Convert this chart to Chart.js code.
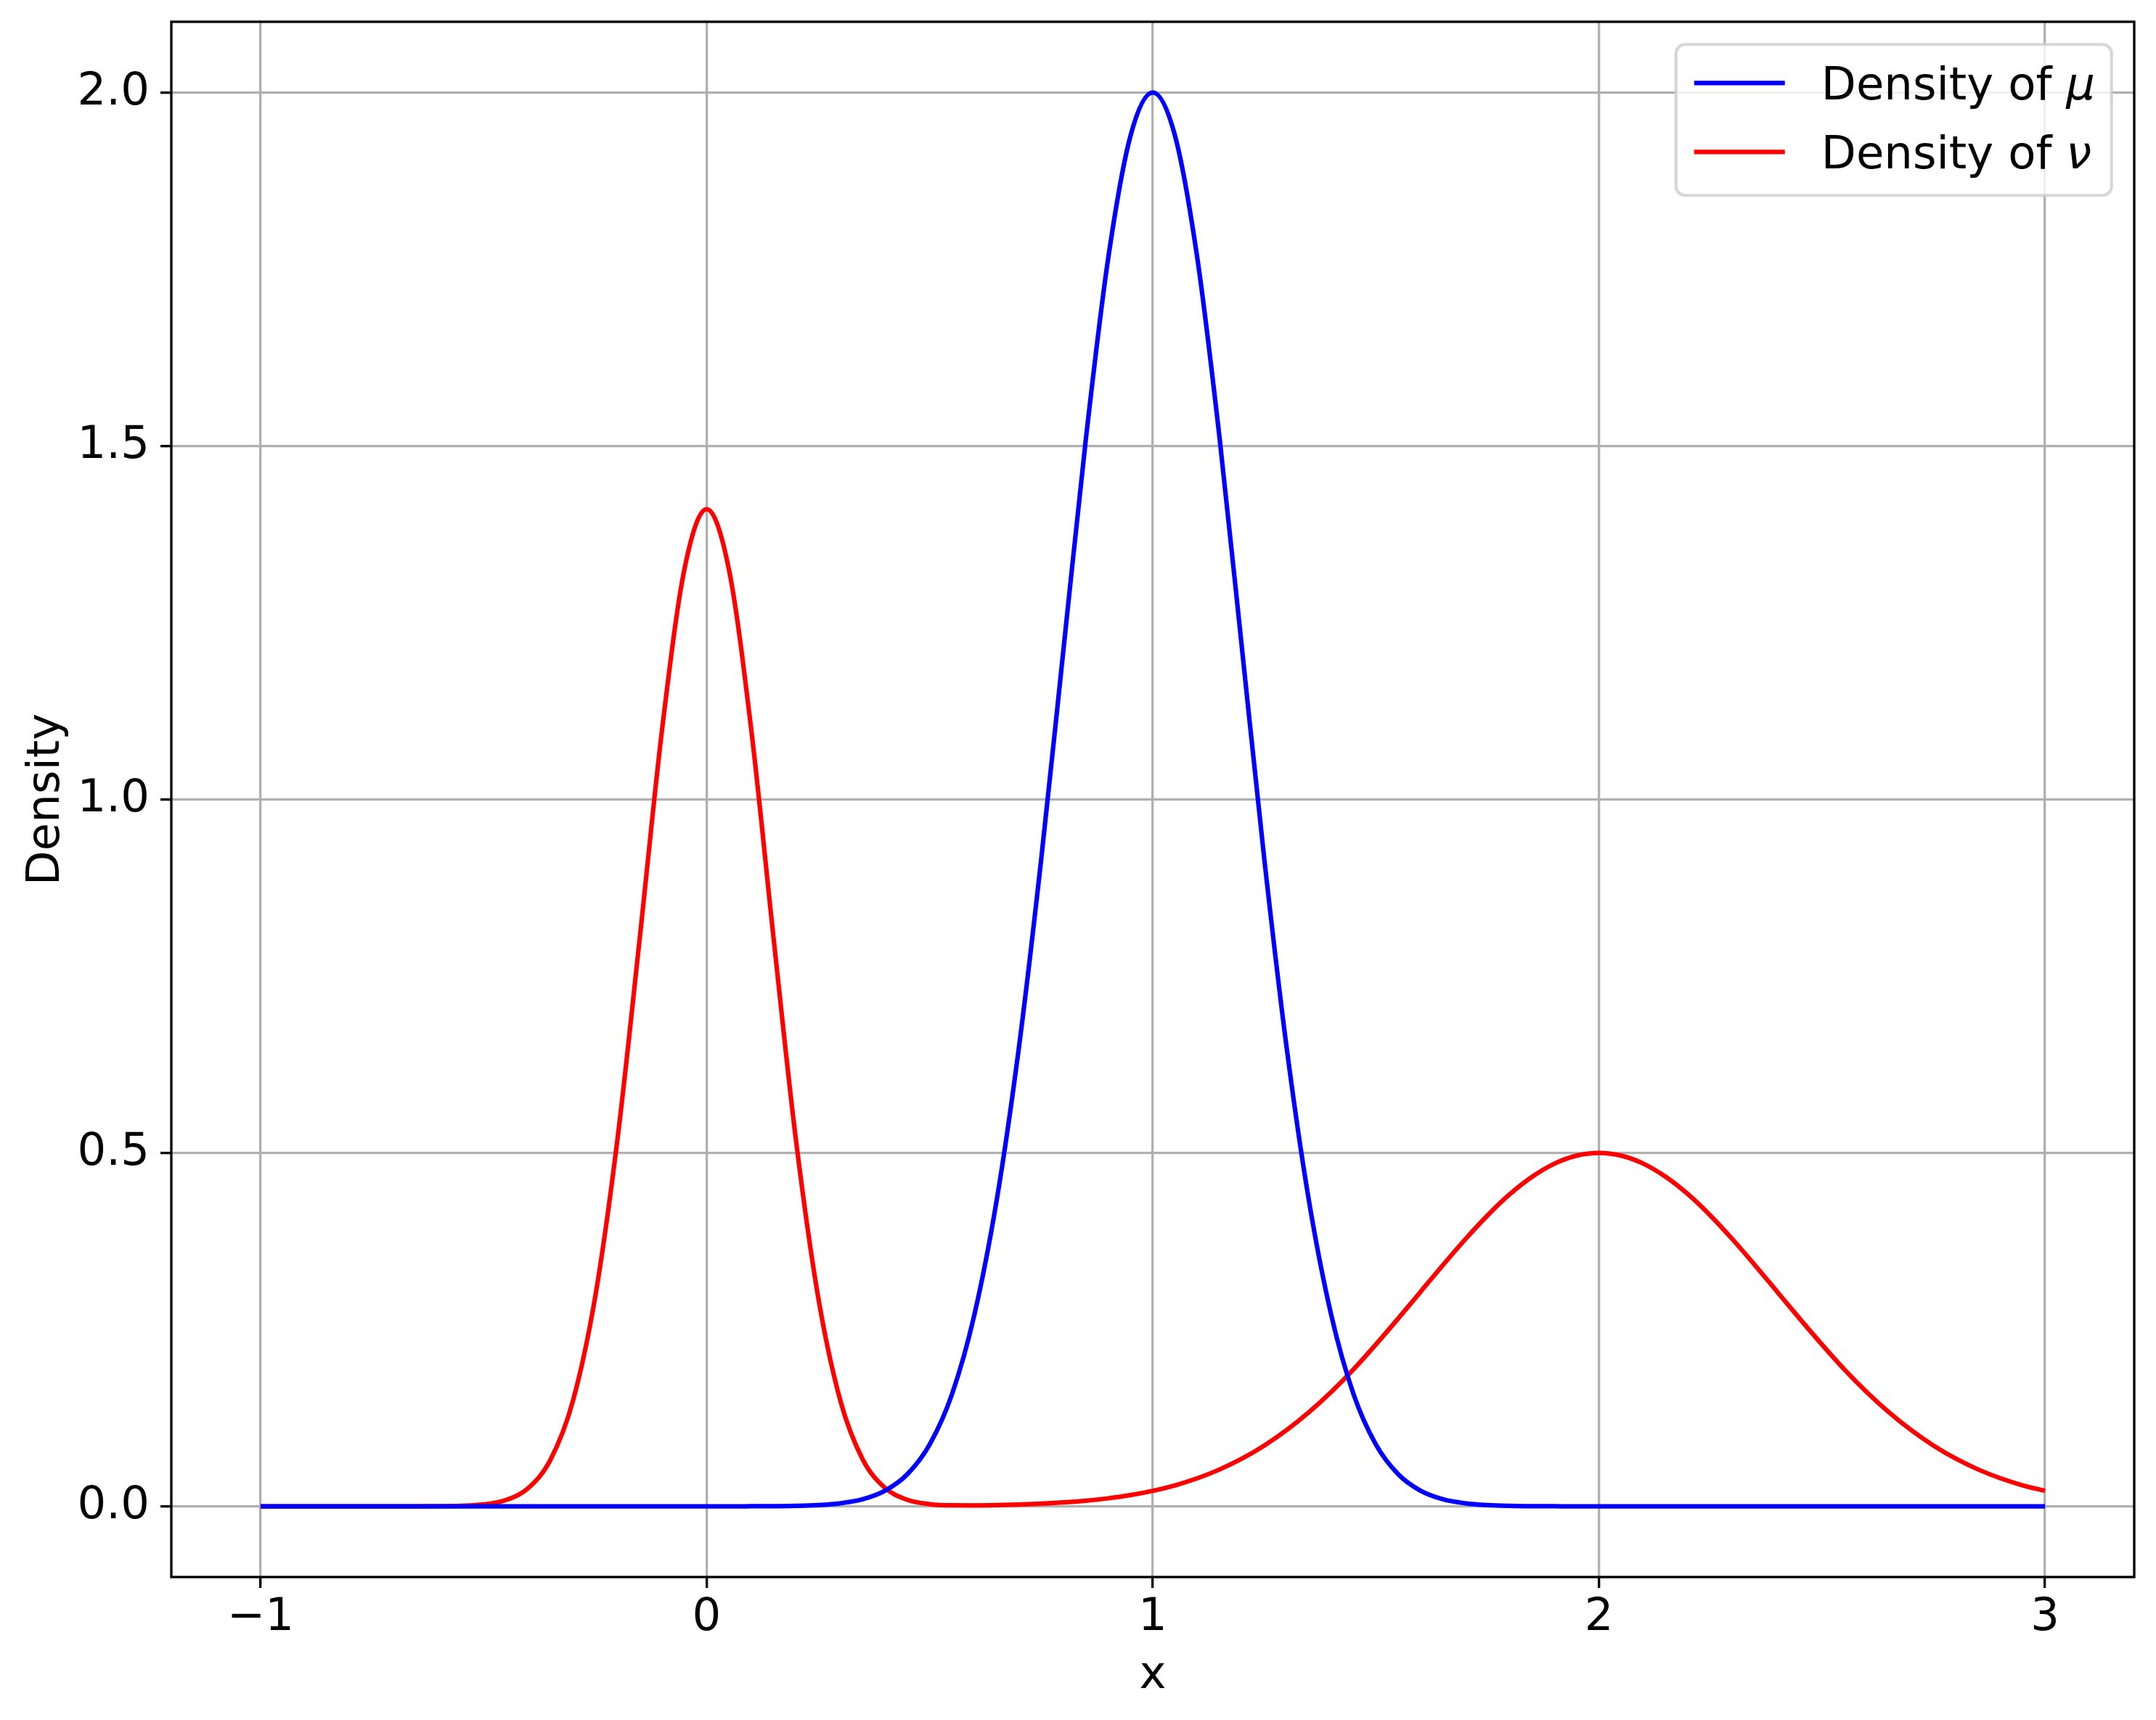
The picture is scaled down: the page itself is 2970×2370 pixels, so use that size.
<!DOCTYPE html>
<html>
<head>
<meta charset="utf-8">
<script src="https://cdn.jsdelivr.net/npm/chart.js@4/dist/chart.umd.min.js"></script>
<style>
  html, body { margin: 0; padding: 0; background: #ffffff; }
  #wrap { width: 2970px; height: 2370px; }
  canvas { display: block; }
</style>
</head>
<body>
<div id="wrap"><canvas id="c" width="2970" height="2370"></canvas></div>
<script>
// ---- data ----
const xValues = [-1.00,-0.95,-0.90,-0.85,-0.80,-0.75,-0.70,-0.65,-0.60,-0.55,-0.50,-0.45,-0.40,-0.35,-0.30,-0.25,-0.20,-0.15,-0.10,-0.05,
  0.00,0.05,0.10,0.15,0.20,0.25,0.30,0.35,0.40,0.45,0.50,0.55,0.60,0.65,0.70,0.75,0.80,0.85,0.90,0.95,
  1.00,1.05,1.10,1.15,1.20,1.25,1.30,1.35,1.40,1.45,1.50,1.55,1.60,1.65,1.70,1.75,1.80,1.85,1.90,1.95,
  2.00,2.05,2.10,2.15,2.20,2.25,2.30,2.35,2.40,2.45,2.50,2.55,2.60,2.65,2.70,2.75,2.80,2.85,2.90,2.95,3.00];

const densityMu = [0,0,0,0,0,0,0,0,0,0,0,0,0,0,0,0,0,0,0,0,0,0,
  0.0001,0.0002,0.0007,0.0018,0.0044,0.0101,0.0222,0.0455,0.0876,0.1587,0.2707,0.4325,0.6493,0.9156,1.2131,1.5097,1.7650,1.9384,2.0000,
  1.9384,1.7650,1.5097,1.2131,0.9156,0.6493,0.4325,0.2707,0.1587,0.0876,0.0455,0.0222,0.0101,0.0044,0.0018,0.0007,0.0002,0.0001,
  0,0,0,0,0,0,0,0,0,0,0,0,0,0,0,0,0,0,0,0,0,0];

const densityNu = [0,0,0,0,0,0,0,
  0.0000,0.0002,0.0007,0.0027,0.0089,0.0258,0.0660,0.1487,0.2957,0.5189,0.8037,1.0985,1.3250,1.4105,
  1.3250,1.0985,0.8037,0.5189,0.2957,0.1488,0.0661,0.0260,0.0092,0.0031,
  0.0014,0.0013,0.0017,0.0025,0.0038,0.0055,0.0080,0.0114,0.0159,0.0219,
  0.0297,0.0397,0.0522,0.0675,0.0860,0.1078,0.1332,0.1619,0.1938,0.2289,
  0.2656,0.3033,0.3410,0.3774,0.4113,0.4413,0.4660,0.4847,0.4961,0.5000,
  0.4961,0.4847,0.4660,0.4413,0.4113,0.3774,0.3410,0.3033,0.2656,0.2289,
  0.1938,0.1619,0.1332,0.1078,0.0860,0.0675,0.0522,0.0397,0.0297,0.0219];

const xTicks = [-1, 0, 1, 2, 3];
const xTickLabels = ['\u22121', '0', '1', '2', '3'];
const yTicks = [0.0, 0.5, 1.0, 1.5, 2.0];
const yTickLabels = ['0.0', '0.5', '1.0', '1.5', '2.0'];
const seriesLabels = ['Density of \u03bc', 'Density of \u03bd'];
const xTitle = 'x';
const yTitle = 'Density';

// ---- styling ----
const FONT = 'DejaVu Sans';
const FS = 62.5;
Chart.defaults.font.family = FONT;
Chart.defaults.font.size = FS;
Chart.defaults.color = '#000000';

const frameAndLegend = {
  id: 'frameAndLegend',
  afterDraw(chart) {
    const ctx = chart.ctx;
    const a = chart.chartArea;
    ctx.save();
    // axes frame
    ctx.strokeStyle = '#000000';
    ctx.lineWidth = 3.33;
    ctx.strokeRect(a.left, a.top, a.right - a.left, a.bottom - a.top);

    // legend (matplotlib style, upper right)
    const pad = 0.5 * FS;
    const bw = 600, bh = 208;
    const bx = a.right - pad - bw;
    const by = a.top + pad;
    const r = 12.5;
    ctx.beginPath();
    ctx.moveTo(bx + r, by);
    ctx.lineTo(bx + bw - r, by);
    ctx.arcTo(bx + bw, by, bx + bw, by + r, r);
    ctx.lineTo(bx + bw, by + bh - r);
    ctx.arcTo(bx + bw, by + bh, bx + bw - r, by + bh, r);
    ctx.lineTo(bx + r, by + bh);
    ctx.arcTo(bx, by + bh, bx, by + bh - r, r);
    ctx.lineTo(bx, by + r);
    ctx.arcTo(bx, by, bx + r, by, r);
    ctx.closePath();
    ctx.fillStyle = 'rgba(255,255,255,0.8)';
    ctx.fill();
    ctx.strokeStyle = 'rgba(204,204,204,0.8)';
    ctx.lineWidth = 4.17;
    ctx.stroke();

    const rowY = [by + 53, by + 148];
    chart.data.datasets.forEach((ds, i) => {
      const y = rowY[i];
      const hx = bx + 0.4 * FS;
      ctx.strokeStyle = ds.borderColor;
      ctx.lineWidth = ds.borderWidth;
      ctx.lineCap = 'butt';
      ctx.beginPath();
      ctx.moveTo(hx, y);
      ctx.lineTo(hx + 2 * FS, y);
      ctx.stroke();
      const tx = hx + 2 * FS + 0.8 * FS;
      const label = ds.label;
      const plain = label.slice(0, -1);
      const sym = label.slice(-1);
      ctx.fillStyle = '#000000';
      ctx.textBaseline = 'alphabetic';
      ctx.textAlign = 'left';
      ctx.font = FS + 'px "' + FONT + '"';
      const base = y + 23;
      ctx.fillText(plain, tx, base);
      const w = ctx.measureText(plain).width;
      ctx.font = 'italic ' + FS + 'px "' + FONT + '"';
      ctx.fillText(sym, tx + w, base);
    });
    ctx.restore();
  }
};

new Chart(document.getElementById('c'), {
  type: 'line',
  data: {
    datasets: [
      {
        label: seriesLabels[0],
        data: xValues.map((x, i) => ({ x: x, y: densityMu[i] })),
        borderColor: '#0000ff',
        borderWidth: 6.25,
        pointRadius: 0,
        fill: false,
        cubicInterpolationMode: 'monotone'
      },
      {
        label: seriesLabels[1],
        data: xValues.map((x, i) => ({ x: x, y: densityNu[i] })),
        borderColor: '#ff0000',
        borderWidth: 6.25,
        pointRadius: 0,
        fill: false,
        cubicInterpolationMode: 'monotone'
      }
    ]
  },
  options: {
    responsive: false,
    animation: false,
    devicePixelRatio: 1,
    layout: { padding: { left: 0, right: 30, top: 30, bottom: 0 } },
    plugins: {
      legend: { display: false },
      tooltip: { enabled: false }
    },
    scales: {
      x: {
        type: 'linear',
        position: 'bottom',
        min: -1.2,
        max: 3.2,
        afterFit: (s) => { s.height = 197; s.paddingLeft = 0; s.paddingRight = 0; },
        afterBuildTicks: (s) => { s.ticks = xTicks.map(v => ({ value: v })); },
        ticks: {
          callback: (v, i) => xTickLabels[i],
          padding: 4,
          maxRotation: 0,
          autoSkip: false,
          font: { size: FS, family: FONT },
          color: '#000000'
        },
        grid: {
          color: '#b0b0b0',
          lineWidth: 3.33,
          drawTicks: true,
          tickLength: 15,
          tickColor: '#000000',
          tickWidth: 3.33
        },
        border: { display: false },
        title: {
          display: true,
          text: xTitle,
          font: { size: FS, family: FONT },
          color: '#000000',
          padding: { top: 0, bottom: 23 }
        }
      },
      y: {
        type: 'linear',
        position: 'left',
        min: -0.1,
        max: 2.1,
        afterFit: (s) => { s.width = 236; s.paddingTop = 0; s.paddingBottom = 0; },
        afterBuildTicks: (s) => { s.ticks = yTicks.map(v => ({ value: v })); },
        ticks: {
          callback: (v, i) => yTickLabels[i],
          padding: 15,
          autoSkip: false,
          font: { size: FS, family: FONT },
          color: '#000000'
        },
        grid: {
          color: '#b0b0b0',
          lineWidth: 3.33,
          drawTicks: true,
          tickLength: 15,
          tickColor: '#000000',
          tickWidth: 3.33
        },
        border: { display: false },
        title: {
          display: true,
          text: yTitle,
          font: { size: FS, family: FONT, lineHeight: 1 },
          color: '#000000',
          padding: { top: 34, bottom: 0 }
        }
      }
    }
  },
  plugins: [frameAndLegend]
});
</script>
</body>
</html>
